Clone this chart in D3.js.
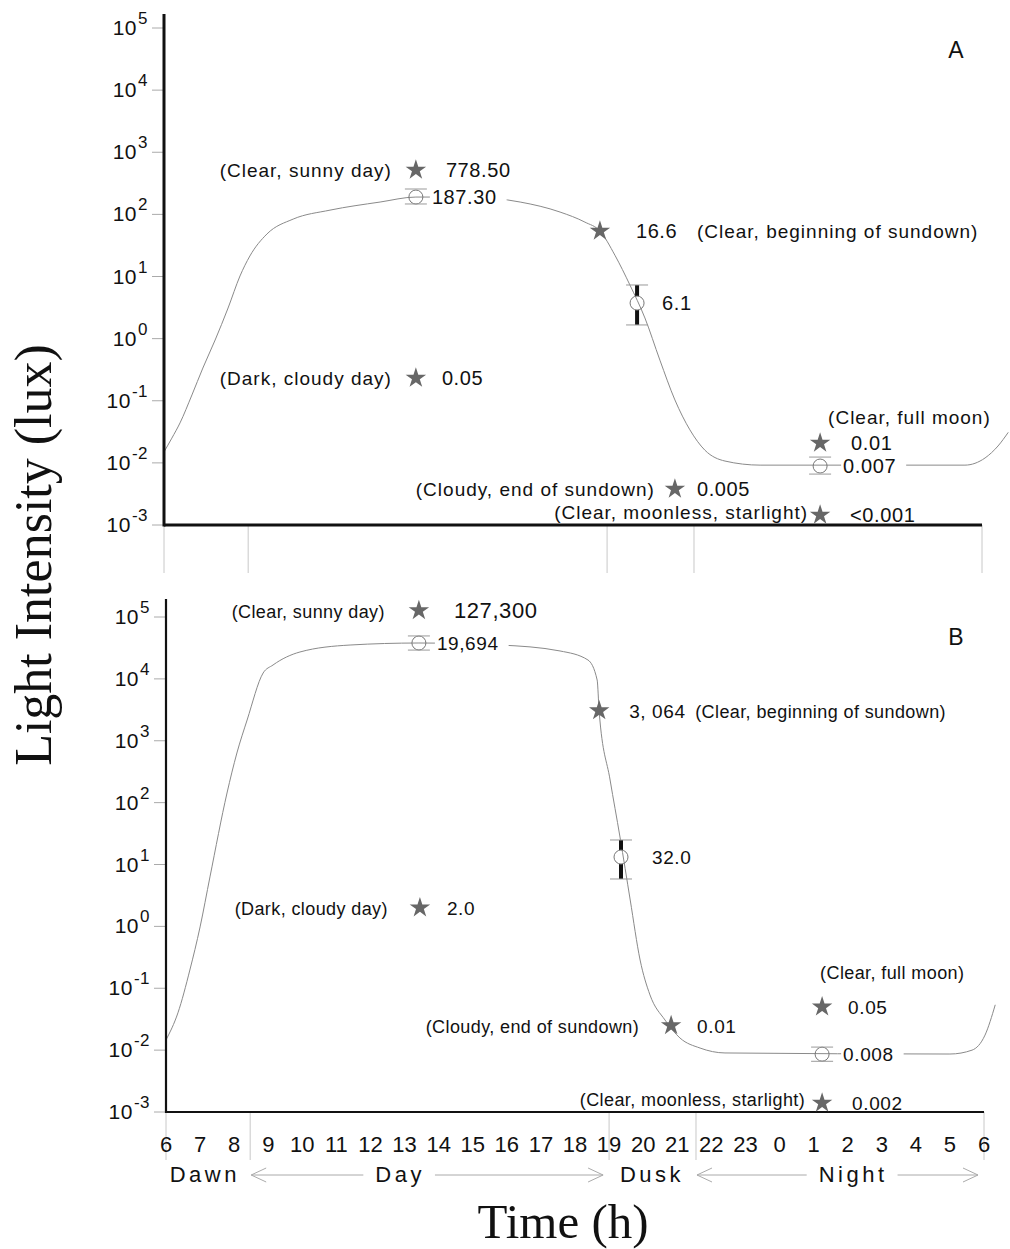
<!DOCTYPE html>
<html>
<head>
<meta charset="utf-8">
<style>
body { margin: 0; background: #fff; }
svg text { font-family: "Liberation Sans", Arial, sans-serif; fill: #111; }
</style>
</head>
<body>
<svg id="chart" width="1010" height="1249"></svg>
<script src="https://cdn.jsdelivr.net/npm/d3@7"></script>
<script>

// ---- data ----
const timeTickLabels = [6,7,8,9,10,11,12,13,14,15,16,17,18,19,20,21,22,23,0,1,2,3,4,5,6];
const decades = [-3,-2,-1,0,1,2,3,4,5];
const periodNames = ["Dawn","Day","Dusk","Night"];
const periodEdges = [6, 8.47, 19, 21.55, 30];   // hours (30 = 6 next morning)
const periodArrow = [false, true, false, true];

// panel A
const curveTimeA = [6.00,6.23,6.47,6.82,7.14,7.50,7.88,8.23,8.52,9.02,9.79,10.87,12.34,13.39,14.98,16.45,17.62,18.35,18.79,19.23,19.67,20.11,20.55,20.99,21.43,21.87,22.46,23.49,27.6,29.50,30.09,30.47,30.77];
const curveLuxA  = [0.015,0.025,0.044,0.124,0.336,0.95,3.11,10.2,21.4,48.3,84,117,158,190,190,158,109,75,54,22,7.3,2.15,0.45,0.103,0.034,0.016,0.0107,0.0092,0.0092,0.0092,0.012,0.0187,0.031];
const starTimeA  = [13.39, 18.79, 13.39, 25.25, 20.99, 25.25];
const starLuxA   = [518, 54, 0.232, 0.0209, 0.0038, 0.00145];
const starValueA = ["778.50", "16.6", "0.05", "0.01", "0.005", "<0.001"];
const starNoteA  = ["(Clear, sunny day)", "(Clear, beginning of sundown)", "(Dark, cloudy day)", "(Clear, full moon)", "(Cloudy, end of sundown)", "(Clear, moonless, starlight)"];
const meanTimeA  = [13.39, 19.88, 25.25];
const meanLuxA   = [190, 3.74, 0.0089];
const meanLoA    = [147, 1.66, 0.0066];
const meanHiA    = [256, 7.3, 0.0124];
const meanValueA = ["187.30", "6.1", "0.007"];

// panel B
const curveTimeB = [6.00,6.35,6.70,7.00,7.29,7.79,8.08,8.38,8.85,9.14,9.93,11.40,13.42,15.80,17.56,18.38,18.65,18.71,19.03,19.32,19.62,19.91,20.20,20.64,21.08,21.67,22.40,29.00,29.65,30.03,30.33];
const curveLuxB  = [0.0146,0.040,0.197,0.98,6.3,143,634,2163,12450,16750,27200,35250,38000,35250,28250,20200,9590,2915,232,27.8,2.67,0.286,0.078,0.0307,0.0157,0.0108,0.0090,0.00865,0.0100,0.0175,0.054];
const starTimeB  = [13.42, 18.71, 13.45, 25.25, 20.82, 25.25];
const starLuxB   = [127300, 3064, 2.0, 0.05, 0.025, 0.0014];
const starValueB = ["127,300", "3, 064", "2.0", "0.05", "0.01", "0.002"];
const starNoteB  = ["(Clear, sunny day)", "(Clear, beginning of sundown)", "(Dark, cloudy day)", "(Clear, full moon)", "(Cloudy, end of sundown)", "(Clear, moonless, starlight)"];
const meanTimeB  = [13.42, 19.35, 25.25];
const meanLuxB   = [38000, 13.2, 0.0086];
const meanLoB    = [29200, 5.83, 0.0066];
const meanHiB    = [49400, 24.9, 0.0112];
const meanValueB = ["19,694", "32.0", "0.008"];

// ---- layout ----
const panelA = {name:"A", x0:164, x1:982, yLow:525, yHigh:28, axisTop:14, axisW:3, edgeBottom:573,
  noteSize:19, noteSpacing:1, valueSize:20, labelY:58,
  starLayout:[{v:30,n:-24,ny:0,a:"end"},{v:36,n:97,ny:0,a:"start"},{v:26,n:-24,ny:0,a:"end"},
              {v:31,n:8,ny:-26,a:"start"},{v:22,n:-20,ny:0,a:"end"},{v:30,n:-12,ny:-3,a:"end"}],
  meanLayout:[16,25,23]};
const panelB = {name:"B", x0:166, x1:984, yLow:1112, yHigh:617, axisTop:599, axisW:2.2, edgeBottom:1160,
  noteSize:18, noteSpacing:0.4, valueSize:19, labelY:645,
  starLayout:[{v:35,n:-34,ny:0,a:"end",big:true},{v:30,n:96,ny:0,a:"start"},{v:27,n:-32,ny:0,a:"end"},
              {v:26,n:-2,ny:-35,a:"start"},{v:26,n:-32,ny:0,a:"end"},{v:30,n:-17,ny:-4,a:"end"}],
  meanLayout:[18,31,21]};
const periodLabelHour = [7.14, 12.87, 20.26, 26.16];

const svg = d3.select("#chart");

function drawPanel(p, d) {
  const x = d3.scaleLinear().domain([6, 30]).range([p.x0, p.x1]);
  const y = d3.scaleLog().domain([1e-3, 1e5]).range([p.yLow, p.yHigh]);
  const g = svg.append("g");

  // gray period boundaries below the axis
  g.selectAll("line.edge").data(periodEdges).join("line")
    .attr("x1", t => x(t)).attr("x2", t => x(t))
    .attr("y1", p.yLow).attr("y2", p.edgeBottom)
    .attr("stroke", "#c8c8c8").attr("stroke-width", 1);

  // y ticks and labels
  g.selectAll("line.tick").data(decades).join("line")
    .attr("x1", p.x0 - 12).attr("x2", p.x0)
    .attr("y1", e => y(10 ** e)).attr("y2", e => y(10 ** e))
    .attr("stroke", "#aaa").attr("stroke-width", 1);
  decades.forEach(e => {
    const t = g.append("text")
      .attr("x", p.x0 - 16).attr("y", y(10 ** e) + 7)
      .attr("text-anchor", "end").style("font-size", "21px").style("letter-spacing", "0.5px");
    t.append("tspan").text("10");
    t.append("tspan").attr("dx", 1).attr("dy", -11).style("font-size", "17px").text(e);
  });

  // curve
  const line = d3.line().x(v => x(v[0])).y(v => y(v[1])).curve(d3.curveMonotoneX);
  g.append("path").datum(d3.zip(d.curveTime, d.curveLux))
    .attr("d", line).attr("fill", "none").attr("stroke", "#8a8a8a").attr("stroke-width", 1);

  // axes
  g.append("line").attr("x1", p.x0).attr("x2", p.x0).attr("y1", p.axisTop).attr("y2", p.yLow + p.axisW / 2)
    .attr("stroke", "#111").attr("stroke-width", p.axisW);
  g.append("line").attr("x1", p.x0).attr("x2", p.x1).attr("y1", p.yLow).attr("y2", p.yLow)
    .attr("stroke", "#111").attr("stroke-width", p.axisW);

  // mean values with error bars
  d.meanTime.forEach((t, i) => {
    const cx = x(t), cy = y(d.meanLux[i]), ylo = y(d.meanLo[i]), yhi = y(d.meanHi[i]), r = 7;
    const lab = g.append("text").attr("x", cx + p.meanLayout[i]).attr("y", cy + 7)
      .style("font-size", p.valueSize + "px").style("letter-spacing", "0.6px").text(d.meanValue[i]);
    const bb = lab.node().getBBox();
    g.insert("rect", () => lab.node())
      .attr("x", bb.x - 2).attr("y", bb.y).attr("width", bb.width + 12).attr("height", bb.height)
      .attr("fill", "#fff");
    if (ylo - cy > r + 3) {
      g.append("line").attr("x1", cx).attr("x2", cx).attr("y1", cy + r).attr("y2", ylo)
        .attr("stroke", "#111").attr("stroke-width", 4);
      g.append("line").attr("x1", cx).attr("x2", cx).attr("y1", cy - r).attr("y2", yhi)
        .attr("stroke", "#111").attr("stroke-width", 4);
    }
    g.append("circle").attr("cx", cx).attr("cy", cy).attr("r", r)
      .attr("fill", "none").attr("stroke", "#777").attr("stroke-width", 1);
    [ylo, yhi].forEach(yy => g.append("line")
      .attr("x1", cx - 11).attr("x2", cx + 11).attr("y1", yy).attr("y2", yy)
      .attr("stroke", "#999").attr("stroke-width", 1));
  });

  // stars with notes
  const star = d3.symbol(d3.symbolStar, 130);
  d.starTime.forEach((t, i) => {
    const cx = x(t), cy = y(d.starLux[i]), L = p.starLayout[i];
    g.append("path").attr("d", star()).attr("transform", `translate(${cx},${cy})`).attr("fill", "#676767");
    g.append("text").attr("x", cx + L.v).attr("y", cy + 7)
      .style("font-size", (L.big ? 22 : p.valueSize) + "px").style("letter-spacing", "0.6px")
      .text(d.starValue[i]);
    g.append("text").attr("x", cx + L.n).attr("y", cy + 7 + L.ny)
      .attr("text-anchor", L.a)
      .style("font-size", p.noteSize + "px").style("letter-spacing", p.noteSpacing + "px")
      .text(d.starNote[i]);
  });

  g.append("text").attr("x", 956).attr("y", p.labelY).attr("text-anchor", "middle")
    .style("font-size", "23px").text(p.name);

  return x;
}

drawPanel(panelA, {curveTime:curveTimeA, curveLux:curveLuxA, starTime:starTimeA, starLux:starLuxA,
  starValue:starValueA, starNote:starNoteA, meanTime:meanTimeA, meanLux:meanLuxA, meanLo:meanLoA,
  meanHi:meanHiA, meanValue:meanValueA});
const xB = drawPanel(panelB, {curveTime:curveTimeB, curveLux:curveLuxB, starTime:starTimeB, starLux:starLuxB,
  starValue:starValueB, starNote:starNoteB, meanTime:meanTimeB, meanLux:meanLuxB, meanLo:meanLoB,
  meanHi:meanHiB, meanValue:meanValueB});

// hour labels under panel B
svg.append("g").selectAll("text").data(timeTickLabels).join("text")
  .attr("x", (v, i) => xB(6 + i)).attr("y", 1152).attr("text-anchor", "middle")
  .style("font-size", "22px").text(v => v);

// day periods
const pg = svg.append("g");
periodNames.forEach((name, i) => {
  const tx = xB(periodLabelHour[i]);
  const lab = pg.append("text").attr("x", tx).attr("y", 1182).attr("text-anchor", "middle")
    .style("font-size", "22px").style("letter-spacing", "3.5px").text(name);
  if (!periodArrow[i]) return;
  const bb = lab.node().getBBox();
  const left = xB(periodEdges[i]) + 1, right = xB(periodEdges[i + 1]) - 6, ay = 1175;
  const st = {stroke: "#aaa", "stroke-width": 1, fill: "none"};
  const seg = (pts) => { const pth = pg.append("path").attr("d", d3.line()(pts)); Object.entries(st).forEach(([k, v]) => pth.attr(k, v)); };
  seg([[left, ay], [bb.x - 12, ay]]);
  seg([[bb.x + bb.width + 10, ay], [right, ay]]);
  seg([[left + 15, ay - 7], [left, ay], [left + 15, ay + 7]]);
  seg([[right - 15, ay - 7], [right, ay], [right - 15, ay + 7]]);
});

// axis titles
svg.append("text").attr("transform", "translate(51,555) rotate(-90)").attr("text-anchor", "middle")
  .style("font-family", "'Liberation Serif', 'Times New Roman', serif").style("font-size", "52px")
  .text("Light Intensity (lux)");
svg.append("text").attr("x", 563).attr("y", 1238).attr("text-anchor", "middle")
  .style("font-family", "'Liberation Serif', 'Times New Roman', serif").style("font-size", "49px")
  .text("Time (h)");

</script>
</body>
</html>
